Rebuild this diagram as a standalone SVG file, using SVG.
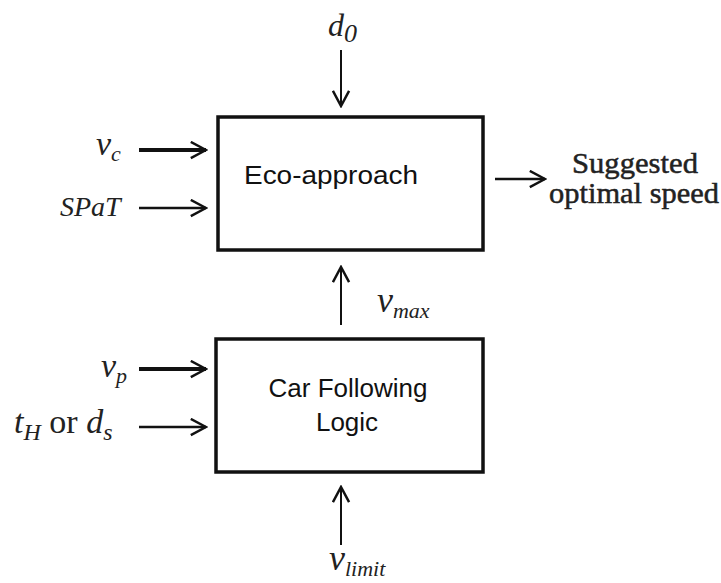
<svg xmlns="http://www.w3.org/2000/svg" width="721" height="583" viewBox="0 0 721 583">
<style>
.box{fill:#fff;stroke:#111;stroke-width:3.5}
.lbl{font-family:"Liberation Sans","Open Sans",sans-serif;font-size:26px;fill:#111}
.m{font-family:"Liberation Serif","Times New Roman",serif;font-style:italic;fill:#222}
.r{font-family:"Liberation Serif","Times New Roman",serif;fill:#222}
.c{stroke:#111;fill:none}
.o{font-family:"Liberation Serif","Times New Roman",serif;font-size:30px;fill:#222;stroke:#222;stroke-width:0.5}
</style>
<defs>
<marker id="ah" viewBox="0 0 20 20" markerWidth="19" markerHeight="19" refX="18" refY="10" orient="auto" markerUnits="userSpaceOnUse">
<path d="M2,1.5 L18,10 L2,18.5" fill="none" stroke="#111" stroke-width="2.6"/>
</marker>
</defs>
<rect width="721" height="583" fill="#fff"/>
<g id="connectors">
<line class="c" x1="341" y1="50" x2="341" y2="106" stroke-width="2" marker-end="url(#ah)"/>
<line class="c" x1="139" y1="150" x2="206" y2="150" stroke-width="4" marker-end="url(#ah)"/>
<line class="c" x1="139" y1="208" x2="206" y2="208" stroke-width="2.5" marker-end="url(#ah)"/>
<line class="c" x1="495" y1="179" x2="545" y2="179" stroke-width="2.5" marker-end="url(#ah)"/>
<line class="c" x1="341" y1="325" x2="341" y2="267" stroke-width="2" marker-end="url(#ah)"/>
<line class="c" x1="139" y1="369" x2="206" y2="369" stroke-width="4" marker-end="url(#ah)"/>
<line class="c" x1="139" y1="427" x2="206" y2="427" stroke-width="2.5" marker-end="url(#ah)"/>
<line class="c" x1="341" y1="545" x2="341" y2="487" stroke-width="2" marker-end="url(#ah)"/>
</g>
<g id="eco">
<rect class="box" x="218" y="117" width="265" height="133"/>
<text class="lbl" x="244" y="184" textLength="174" lengthAdjust="spacingAndGlyphs">Eco-approach</text>
</g>
<g id="car">
<rect class="box" x="216" y="339" width="267" height="133"/>
<text class="lbl" x="348" y="397" text-anchor="middle" font-size="24">Car Following</text>
<text class="lbl" x="347" y="431" text-anchor="middle" font-size="24">Logic</text>
</g>
<g id="d0"><text class="m" x="328" y="36" font-size="32" fill="#444">d<tspan font-size="26" dy="6">0</tspan></text></g>
<g id="vc"><text class="m" x="96" y="155" font-size="34">v<tspan font-size="22" dy="6">c</tspan></text></g>
<g id="spat"><text class="m" x="60" y="216" font-size="28" fill="#555">SPaT</text></g>
<g id="out">
<text class="o" x="572" y="173" textLength="126" lengthAdjust="spacingAndGlyphs">Suggested</text>
<text class="o" x="549" y="203" textLength="170" lengthAdjust="spacingAndGlyphs">optimal speed</text>
</g>
<g id="vmax"><text class="m" x="377" y="312" font-size="36">v<tspan font-size="22" dy="6">max</tspan></text></g>
<g id="vp"><text class="m" x="101" y="377" font-size="34">v<tspan font-size="22" dy="6">p</tspan></text></g>
<g id="th"><text class="m" x="14" y="433" font-size="34">t<tspan font-size="24" dy="7">H</tspan><tspan class="r" font-style="normal" dy="-7"> or </tspan>d<tspan font-size="24" dy="7">s</tspan></text></g>
<g id="vlimit"><text class="m" x="329" y="570" font-size="36">v<tspan font-size="22" dy="6">limit</tspan></text></g>
</svg>
